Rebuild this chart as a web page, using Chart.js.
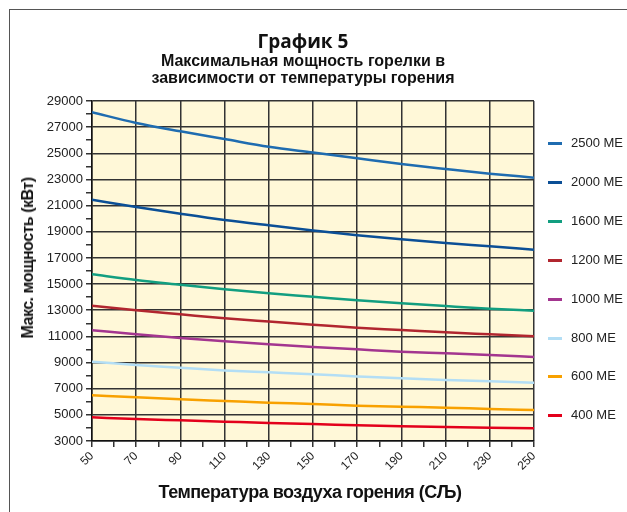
<!DOCTYPE html>
<html>
<head>
<meta charset="utf-8">
<script src="https://cdn.jsdelivr.net/npm/chart.js@4.4.1/dist/chart.umd.min.js"></script>
<style>
    html, body { margin: 0; padding: 0; background: #fff; overflow: hidden; }
    #wrap { position: relative; width: 627px; height: 512px; font-family: "Liberation Sans", Arial, sans-serif; }
    #frame { position: absolute; left: 9px; top: 9px; width: 700px; height: 600px; border: 1.5px solid #555; box-sizing: border-box; }
    #chart { position: absolute; left: 0; top: 0; }
    .ttl { position: absolute; left: 0; width: 606px; text-align: center; color: #111; font-weight: bold; }
    #t1 { top: 28px; font-size: 19px; font-family: "Open Sans", "Liberation Sans", sans-serif; }
    #t2 { top: 52px; font-size: 16px; line-height: 17px; }
    #ytitle { position: absolute; left: 28px; top: 258px; transform: translate(-50%, -50%) rotate(-90deg);
              font-size: 16px; letter-spacing: -0.5px; font-weight: bold; color: #111; white-space: nowrap; }
    #xtitle { position: absolute; left: 310px; top: 492px; transform: translate(-50%, -50%);
              font-size: 18px; letter-spacing: -0.5px; font-weight: bold; color: #111; white-space: nowrap; }
    .leg { position: absolute; left: 548px; height: 16px; font-size: 13px; color: #222; white-space: nowrap; }
    .leg i { position: absolute; left: 0; top: 7px; width: 14px; height: 3px; }
    .leg span { position: absolute; left: 23px; top: 0; line-height: 16px; }
</style>
</head>
<body>
<div id="wrap">
    <div id="frame"></div>
    <canvas id="chart" width="627" height="512"></canvas>
    <div class="ttl" id="t1">График 5</div>
    <div class="ttl" id="t2">Максимальная мощность горелки в<br>зависимости от температуры горения</div>
    <div id="ytitle">Макс. мощность (кВт)</div>
    <div id="xtitle">Температура воздуха горения (СЉ)</div>
    <div id="legend"></div>
</div>
<script>
// Temperature of combustion air, x values
const temps = [50, 70, 90, 110, 130, 150, 170, 190, 210, 230, 250];

// Max burner power (kW) per burner size
const me2500 = [28140, 27320, 26680, 26090, 25500, 25060, 24620, 24180, 23800, 23440, 23140];
const me2000 = [21450, 20890, 20380, 19900, 19490, 19100, 18730, 18420, 18140, 17890, 17630];
const me1600 = [15750, 15310, 14950, 14600, 14290, 14030, 13760, 13530, 13320, 13120, 12960];
const me1200 = [13350, 13000, 12690, 12380, 12130, 11890, 11660, 11490, 11310, 11160, 11010];
const me1000 = [11470, 11160, 10880, 10620, 10390, 10190, 10010, 9830, 9710, 9580, 9420];
const me800 = [9060, 8810, 8610, 8400, 8250, 8100, 7940, 7790, 7670, 7560, 7460];
const me600 = [6500, 6340, 6190, 6060, 5930, 5830, 5700, 5620, 5550, 5450, 5370];
const me400 = [4810, 4680, 4580, 4480, 4380, 4300, 4200, 4120, 4070, 4020, 3970];

const seriesLabels = ['2500 ME', '2000 ME', '1600 ME', '1200 ME', '1000 ME', '800 ME', '600 ME', '400 ME'];
const seriesData = [me2500, me2000, me1600, me1200, me1000, me800, me600, me400];
const seriesColors = ['#1f6cb0', '#0b4f96', '#129e80', '#b1262f', '#a3358f', '#b3def5', '#f8a100', '#e3001b'];

const gridColor = '#333';

// Yellow fill behind the plot area
const plotBg = {
    id: 'plotBg',
    beforeDraw: function(chart) {
        const a = chart.chartArea;
        chart.ctx.save();
        chart.ctx.fillStyle = '#fff8d8';
        chart.ctx.fillRect(a.left, a.top, a.right - a.left, a.bottom - a.top);
        chart.ctx.restore();
    }
};

const datasets = seriesLabels.map((label, i) => ({
    label: label,
    data: temps.map((t, j) => ({ x: t, y: seriesData[i][j] })),
    borderColor: seriesColors[i],
    borderWidth: 2.5,
    pointRadius: 0,
    cubicInterpolationMode: 'monotone',
    fill: false
}));

new Chart(document.getElementById('chart'), {
    type: 'line',
    data: { datasets: datasets },
    plugins: [plotBg],
    options: {
        responsive: false,
        animation: false,
        layout: { padding: { left: 0, top: 101, right: 93, bottom: 0 } },
        plugins: {
            legend: { display: false },
            tooltip: { enabled: false }
        },
        scales: {
            x: {
                type: 'linear',
                min: 50,
                max: 250,
                afterFit: function(scale) { scale.height = 71; },
                ticks: {
                    stepSize: 10,
                    autoSkip: false,
                    maxRotation: 45,
                    minRotation: 45,
                    padding: 2,
                    color: '#222',
                    font: { family: 'Liberation Sans', size: 12 },
                    callback: v => ((v - 50) % 20 === 0 ? String(v) : '')
                },
                grid: {
                    lineWidth: 1.5,
                    tickLength: 6,
                    tickColor: gridColor,
                    color: ctx => (ctx.tick && (ctx.tick.value - 50) % 20 === 0 ? gridColor : 'rgba(0,0,0,0)')
                },
                border: { display: true, color: '#111', width: 1.5 }
            },
            y: {
                min: 3000,
                max: 29000,
                afterFit: function(scale) { scale.width = 92; },
                ticks: {
                    stepSize: 1000,
                    autoSkip: false,
                    padding: 3,
                    color: '#222',
                    font: { family: 'Liberation Sans', size: 13 },
                    callback: v => ((v - 3000) % 2000 === 0 ? String(v) : '')
                },
                grid: {
                    lineWidth: 1.5,
                    tickLength: 6,
                    tickColor: gridColor,
                    color: ctx => (ctx.tick && (ctx.tick.value - 3000) % 2000 === 0 ? gridColor : 'rgba(0,0,0,0)')
                },
                border: { display: true, color: '#111', width: 1.5 }
            }
        }
    }
});

// Legend down the right side
const legend = document.getElementById('legend');
seriesLabels.forEach((label, i) => {
    const item = document.createElement('div');
    item.className = 'leg';
    item.style.top = (135 + i * 38.9) + 'px';
    item.innerHTML = '<i style="background:' + seriesColors[i] + '"></i><span>' + label + '</span>';
    legend.appendChild(item);
});
</script>
</body>
</html>
